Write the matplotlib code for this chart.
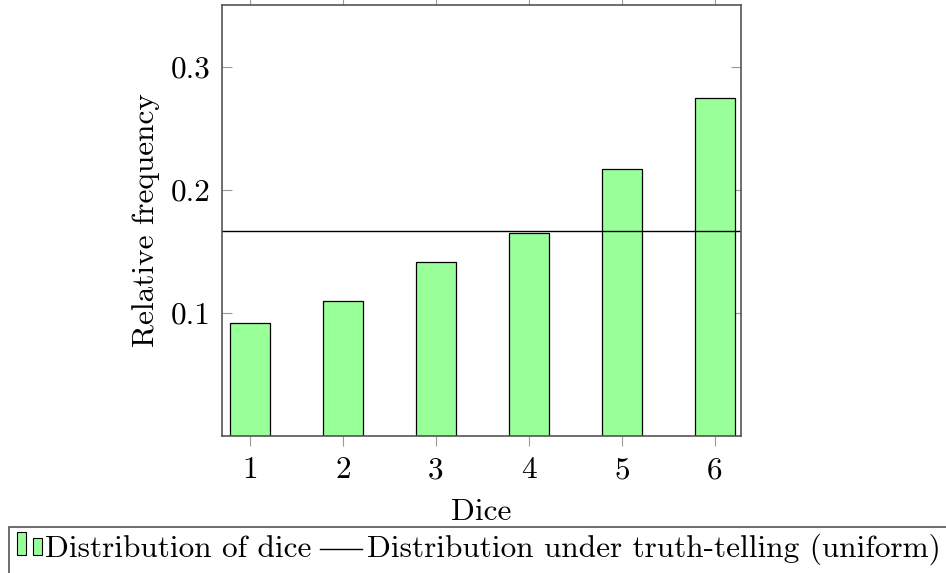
import matplotlib
matplotlib.use("Agg")
import matplotlib.pyplot as plt
from matplotlib.patches import Rectangle
from matplotlib.lines import Line2D

# data
dice = [1, 2, 3, 4, 5, 6]
rel_freq = [0.092, 0.110, 0.1415, 0.165, 0.217, 0.2748]
uniform = 1 / 6
y_ticks = [0.1, 0.2, 0.3]
y_tick_labels = ["0.1", "0.2", "0.3"]
bar_label = "Distribution of dice"
line_label = "Distribution under truth-telling (uniform)"

W, H = 946, 573
plt.rcParams["font.family"] = ["cmr10", "DejaVu Serif"]
plt.rcParams["axes.formatter.use_mathtext"] = True
fs = 22.5

fig = plt.figure(figsize=(W / 100, H / 100), dpi=100)


def fx(x):
    return x / W


def fy(y):
    return 1 - y / H


# axes box in pixels: left 222, right 741, top 5, bottom 436
ax = fig.add_axes([fx(222), fy(436), fx(741) - fx(222), fy(5) - fy(436)])

bar_col = "#99ff99"
ax.bar(dice, rel_freq, width=0.43, color=bar_col, edgecolor="black",
       linewidth=0.9, zorder=2)
ax.axhline(uniform, color="black", linewidth=1.0, zorder=3)

ax.set_xlim(0.7, 6.28)
ax.set_ylim(0, 0.35)
ax.set_xticks(dice)
ax.set_xticklabels([str(d) for d in dice])
ax.set_yticks(y_ticks)
ax.set_yticklabels(y_tick_labels)

ax.tick_params(axis="x", direction="out", top=True, bottom=True,
               length=7.5, width=0.8, color="#999999", labelsize=fs, pad=7)
ax.tick_params(axis="y", direction="in", left=True, right=True,
               length=7.5, width=0.8, color="#999999", labelsize=fs, pad=8)
for s in ax.spines.values():
    s.set_color("#555555")
    s.set_linewidth(1.2)
    s.set_zorder(4)

ax.set_xlabel("Dice", fontsize=fs, labelpad=10)
ax.set_ylabel("Relative frequency", fontsize=fs, labelpad=8)

# legend box (runs off the figure edge like the reference)
fig.add_artist(Rectangle((fx(9), fy(600)), fx(1000) - fx(9), fy(527) - fy(600),
                         transform=fig.transFigure, facecolor="white",
                         edgecolor="#555555", linewidth=1.2, clip_on=False))
fig.add_artist(Rectangle((fx(17), fy(555)), fx(26) - fx(17), fy(532) - fy(555),
                         transform=fig.transFigure, facecolor=bar_col,
                         edgecolor="black", linewidth=0.8))
fig.add_artist(Rectangle((fx(33), fy(555)), fx(42) - fx(33), fy(538) - fy(555),
                         transform=fig.transFigure, facecolor=bar_col,
                         edgecolor="black", linewidth=0.8))
fig.text(fx(45), fy(549), bar_label, fontsize=fs, va="center", ha="left")
fig.add_artist(Line2D([fx(320), fx(362)], [fy(549), fy(549)],
                      transform=fig.transFigure, color="black", linewidth=1.0))
fig.text(fx(367), fy(549), line_label, fontsize=fs, va="center", ha="left")

fig.savefig("out.png", dpi=100)
